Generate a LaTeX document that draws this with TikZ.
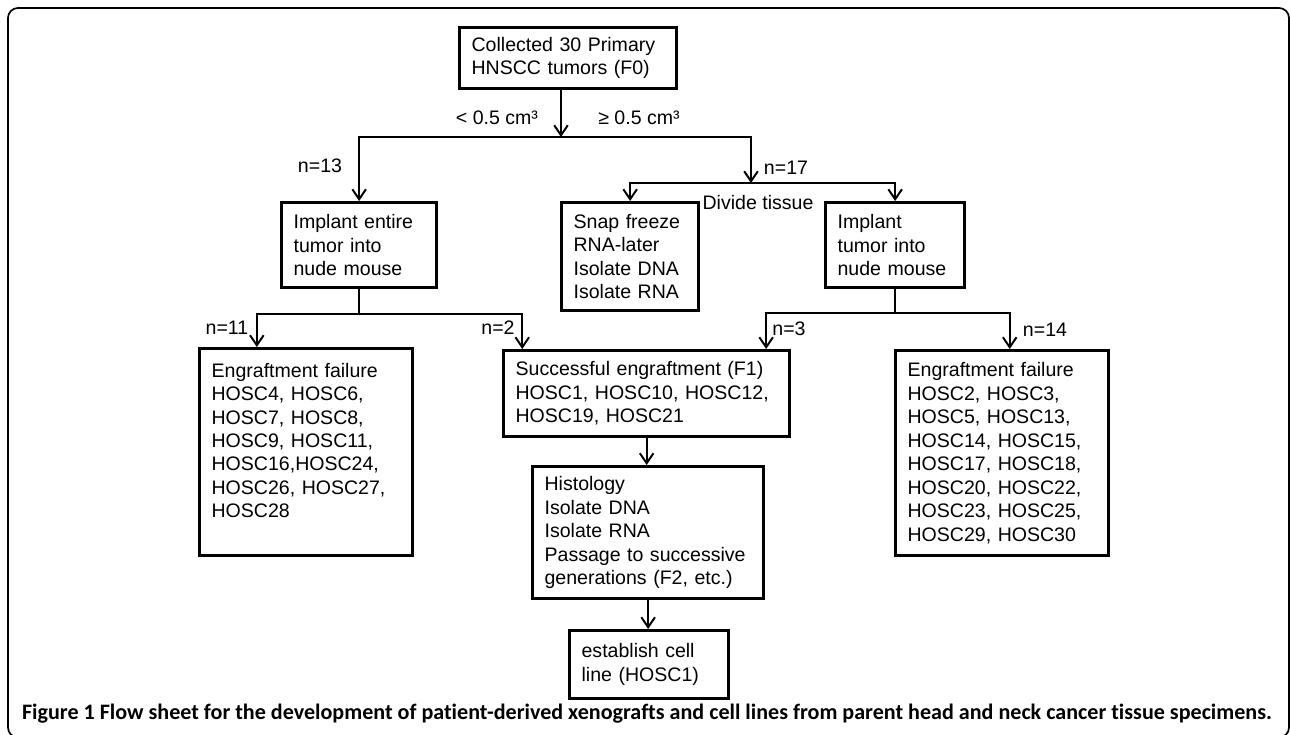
\documentclass[tikz,border=0pt]{standalone}
\usepackage{fontspec}
\setmainfont{Liberation Sans}
\newfontfamily\captionfont[Ligatures=NoCommon]{Carlito}
\usepackage{tikz}
\usetikzlibrary{arrows.meta,calc}
\tikzset{
  flowbox/.style={draw, rectangle, line width=2.3pt, anchor=north west, align=left,
    inner xsep=0.3cm, inner ysep=0.1cm, font=\fontsize{13.9}{16.7}\selectfont},
  flowline/.style={line width=1.4pt},
  flowarrow/.style={line width=1.4pt, -{Straight Barb[length=0.25cm,width=0.34cm]}},
  countlabel/.style={inner sep=0pt, font=\fontsize{13.9}{16.7}\selectfont},
}

\begin{document}
\begin{tikzpicture}[x=0.025cm,y=-0.025cm]
\useasboundingbox (0,0) rectangle (1290,735);
% frame round figure and caption
\draw[line width=1.2pt, rounded corners=0.25cm] (8,8) rectangle (1289,737.5);

% boxes
\node[flowbox, text width=4.825cm, minimum height=1.525cm] (tumors) at (458,26) {Collected 30 Primary\\HNSCC tumors (F0)};
\node[flowbox, text width=3.275cm, minimum height=2.125cm] (implentire) at (280,201) {Implant entire\\tumor into\\nude mouse};
\node[flowbox, text width=2.825cm, minimum height=2.7cm] (snap) at (560,201) {Snap freeze\\RNA-later\\Isolate DNA\\Isolate RNA};
\node[flowbox, text width=2.875cm, minimum height=2.125cm] (implpart) at (824,201) {Implant\\tumor into\\nude mouse};
\node[flowbox, text width=4.725cm, minimum height=5.175cm] (failsmall) at (198,347) {Engraftment failure\\HOSC4, HOSC6,\\HOSC7, HOSC8,\\HOSC9, HOSC11,\\HOSC16,HOSC24,\\HOSC26, HOSC27,\\HOSC28\\ \mbox{}};
\node[flowbox, text width=6.55cm, minimum height=2.15cm] (success) at (502,349) {Successful engraftment (F1)\\HOSC1, HOSC10, HOSC12,\\HOSC19, HOSC21};
\node[flowbox, text width=5.175cm, minimum height=3.3cm] (histology) at (531,465) {Histology\\Isolate DNA\\Isolate RNA\\Passage to successive\\generations (F2, etc.)};
\node[flowbox, text width=3.375cm, minimum height=1.7cm] (cellline) at (568,629) {establish cell\\line (HOSC1)};
\node[flowbox, text width=4.725cm, minimum height=5.125cm] (faillarge) at (894,349) {Engraftment failure\\HOSC2, HOSC3,\\HOSC5, HOSC13,\\HOSC14, HOSC15,\\HOSC17, HOSC18,\\HOSC20, HOSC22,\\HOSC23, HOSC25,\\HOSC29, HOSC30};

% split by size
\coordinate (sizesplit) at (561,137);
\coordinate (dividesplit) at (751,183);
\draw[flowarrow] (tumors.south -| sizesplit) -- (sizesplit);
\draw[flowarrow] (sizesplit) -| (implentire.north);
\draw[flowarrow] (sizesplit) -| (dividesplit);
\draw[flowarrow] (dividesplit) -| (snap.north);
\draw[flowarrow] (dividesplit) -| (implpart.north);

% outcome of implants
\draw[flowline] (implentire.south) -- ++(0,25) coordinate (entiresplit);
\draw[flowarrow] (entiresplit) -| ($(failsmall.north west)!0.272!(failsmall.north east)$);
\draw[flowarrow] (entiresplit) -| ($(success.north west)!0.07!(success.north east)$);
\draw[flowline] (implpart.south) -- ++(0,24) coordinate (partsplit);
\draw[flowarrow] (partsplit) -| ($(success.north west)!0.913!(success.north east)$);
\draw[flowarrow] (partsplit) -| ($(faillarge.north west)!0.535!(faillarge.north east)$);
\draw[flowarrow] (success.south) -- (success.south |- histology.north);
\draw[flowarrow] (histology.south) -- (histology.south |- cellline.north);

% labels
\node[countlabel] (smaller) at (497,118) {< 0.5 cm³};
\node[countlabel] (larger) at (639,118) {≥ 0.5 cm³};
\node[countlabel] (n13) at (320,166) {n=13};
\node[countlabel] (n17) at (786,168) {n=17};
\node[countlabel] (divide) at (758,203) {Divide tissue};
\node[countlabel] (n11) at (227,328) {n=11};
\node[countlabel] (n2) at (498,328) {n=2};
\node[countlabel] (n3) at (789,329) {n=3};
\node[countlabel] (n14) at (1045,330) {n=14};

\node[inner sep=0pt, font=\captionfont\bfseries\fontsize{15.7}{18}\selectfont] (caption) at (647,714) {Figure 1 Flow sheet for the development of patient-derived xenografts and cell lines from parent head and neck cancer tissue specimens.};
\end{tikzpicture}
\end{document}
